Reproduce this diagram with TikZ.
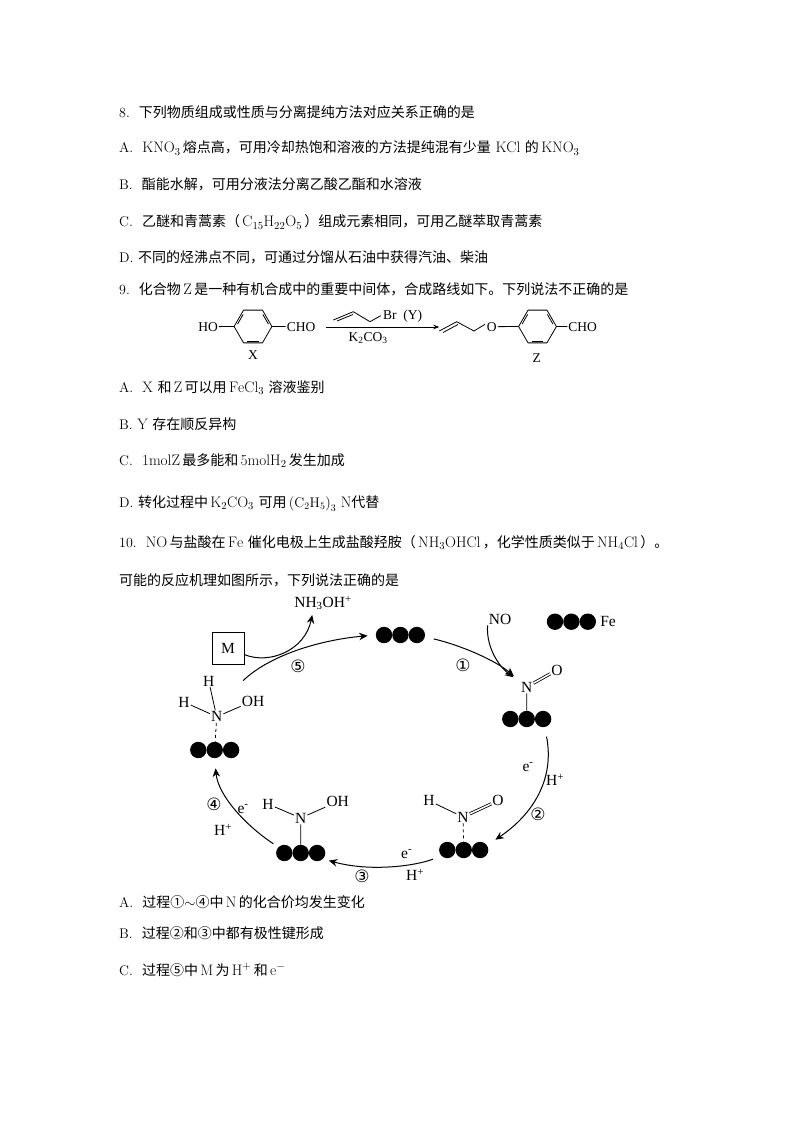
\documentclass[tikz,border=0pt]{standalone}
\usepackage{fontspec}
\usepackage{tikz}
\usetikzlibrary{arrows.meta}
\newfontfamily\cjk{Noto Sans CJK SC}
\newfontfamily\chemfont{Liberation Serif}
\newfontfamily\circfont{DejaVu Sans}
\newcommand{\zh}[1]{{\cjk #1}}
\newcommand{\chem}[1]{{\fontsize{15.2}{15.2}\selectfont$\mathrm{#1}$}}
\tikzset{>={Stealth[length=8.5pt,width=7.5pt]}}
\tikzset{
  textline/.style={anchor=base west,inner sep=0pt,font=\fontsize{14}{14}\selectfont},
  atom/.style={inner sep=1pt,font=\chemfont\fontsize{15.5}{15.5}\selectfont},
  small atom/.style={inner sep=1pt,font=\chemfont\fontsize{13.5}{13.5}\selectfont},
  stepnum/.style={inner sep=0pt,font=\circfont\fontsize{17}{17}\selectfont},
  featom/.style={circle,fill=black,minimum size=16.4pt,inner sep=0pt},
  bond/.style={line width=0.8pt},
  flow/.style={->,line width=1pt},
  chain/.style={line width=0.8pt,line join=bevel}
}
% three iron atoms side by side
\newcommand{\featoms}[3]{
  \foreach \t in {1, 2, 3} {
    \node[featom](#1\t) at (#2+16.4*\t-32.8, #3) {};
  }
}
% benzene ring with corners #10 ... #15
\newcommand{\benzene}[3]{
  \foreach \t in {0, 1, 2, 3, 4, 5} {
    \coordinate (#1\t) at ({#2+18.9*cos(60*\t)}, {#3+18.9*sin(60*\t)});
  }
  \draw[chain] (#10) -- (#11) -- (#12) -- (#13) -- (#14) -- (#15) -- cycle;
  \foreach \a in {60, 180, 300} {
    \draw[chain] ({#2+15.6*cos(\a+9)}, {#3+15.6*sin(\a+9)}) -- ({#2+15.6*cos(\a+51)}, {#3+15.6*sin(\a+51)});
  }
}
\begin{document}
\begin{tikzpicture}[x=1pt,y=-1pt]
  \useasboundingbox (0,0) rectangle (794,1123);

  % question 8
  \node[textline](qeight) at (119, 118) {8.\ \ \zh{下列物质组成或性质与分离提纯方法对应关系正确的是}};
  \node[textline](qeighta) at (119, 153) {A.\ \ \chem{KNO_3}\,\zh{熔点高，可用冷却热饱和溶液的方法提纯混有少量}\ \chem{KCl}\ \zh{的}\,\chem{KNO_3}};
  \node[textline](qeightb) at (119, 190) {B.\ \ \zh{酯能水解，可用分液法分离乙酸乙酯和水溶液}};
  \node[textline](qeightc) at (119, 227) {C.\ \ \zh{乙醚和青蒿素（}\,\chem{C_{15}H_{22}O_5}\,\zh{）组成元素相同，可用乙醚萃取青蒿素}};
  \node[textline](qeightd) at (119, 262) {D.\ \zh{不同的烃沸点不同，可通过分馏从石油中获得汽油、柴油}};

  % question 9
  \node[textline](qnine) at (119, 294) {9.\ \ \zh{化合物}\chem{\,Z\,}\zh{是一种有机合成中的重要中间体，合成路线如下。下列说法不正确的是}};

  \node[small atom](ho) at (208, 326.7) {HO};
  \benzene{xring}{253}{326.5}
  \node[small atom](chox) at (301, 326.7) {CHO};
  \node[small atom](labelx) at (253, 355) {X};
  \draw[bond] (ho) -- (xring3);
  \draw[bond] (xring0) -- (chox);

  \coordinate (ya) at (333.3, 320);
  \coordinate (yb) at (353.3, 311.7);
  \coordinate (yc) at (370, 321.7);
  \coordinate (yd) at (380.7, 315.7);
  \draw[chain] (ya) -- (yb) -- (yc) -- (yd);
  \draw[bond] (337, 321) -- (353, 314.5);
  \node[small atom,anchor=west](brlabel) at (382, 316.7) {Br\ \ (Y)};
  \node[small atom](kcarb) at (368, 338) {K\textsubscript{2}CO\textsubscript{3}};

  \coordinate (za) at (439.3, 331);
  \coordinate (zb) at (456.7, 321.7);
  \coordinate (zc) at (474, 331);
  \coordinate (zd) at (485, 324.3);
  \draw[chain] (za) -- (zb) -- (zc) -- (zd);
  \draw[bond] (443, 332.5) -- (458, 324.5);
  \node[small atom](oz) at (491.7, 326.7) {O};
  \coordinate (arrowstart) at (326, 327);
  \coordinate (arrowend) at (439.3, 327);
  \draw[->,line width=0.8pt,>={Stealth[length=6pt,width=4.5pt]}] (arrowstart) -- (arrowend);
  \benzene{zring}{537.5}{326.5}
  \node[small atom](choz) at (582.7, 326.7) {CHO};
  \node[small atom](labelz) at (536.7, 358) {Z};
  \draw[bond] (oz) -- (zring3);
  \draw[bond] (zring0) -- (choz);

  \node[textline](qninea) at (119, 392) {A.\ \ \chem{X}\ \zh{和}\,\chem{Z}\,\zh{可以用}\,\chem{FeCl_3}\ \zh{溶液鉴别}};
  \node[textline](qnineb) at (119, 429) {B.\ \chem{Y}\ \zh{存在顺反异构}};
  \node[textline](qninec) at (119, 465) {C.\ \ \chem{1molZ}\,\zh{最多能和}\,\chem{5molH_2}\,\zh{发生加成}};
  \node[textline](qnined) at (119, 507) {D.\ \zh{转化过程中}\,\chem{K_2CO_3}\ \zh{可用}\,$\left(\mathrm{C_2H_5}\right)_3$\ \chem{N}\zh{代替}};

  % question 10
  \node[textline](qten) at (119, 547) {10.\ \ \chem{NO}\,\zh{与盐酸在}\,\chem{Fe}\ \zh{催化电极上生成盐酸羟胺（}\,\chem{NH_3OHCl}\,\zh{，化学性质类似于}\,\chem{NH_4Cl}\,\zh{）。}};
  \node[textline](qtenb) at (119, 585) {\zh{可能的反应机理如图所示，下列说法正确的是}};

  % iron atoms
  \featoms{fetop}{400.4}{635}
  \featoms{feleg}{571.4}{621.7}
  \featoms{fea}{526.7}{719}
  \featoms{feb}{463.7}{850}
  \featoms{fec}{300.7}{853}
  \featoms{fed}{214.7}{750}
  \node[atom](fename) at (608, 621) {Fe};

  % nitrosyl on the right
  \node[atom](no) at (500, 619) {NO};
  \node[atom](na) at (526.7, 687) {N};
  \node[atom](oa) at (557, 670) {O};
  \draw[bond,double,double distance=1.5pt] (na) -- (oa);
  \draw[bond] (na) -- (fea2);

  % HNO at the bottom right
  \node[atom](nb) at (463, 817) {N};
  \node[atom](hb) at (429, 800.7) {H};
  \node[atom](ob) at (498, 800.7) {O};
  \draw[bond] (hb) -- (nb);
  \draw[bond,double,double distance=1.5pt] (nb) -- (ob);
  \draw[bond,dashed] (nb) -- (feb2);

  % HNOH at the bottom left
  \node[atom](nc) at (300.7, 818) {N};
  \node[atom](hc) at (268, 804) {H};
  \node[atom](ohc) at (337.7, 801.7) {OH};
  \draw[bond] (hc) -- (nc);
  \draw[bond] (nc) -- (ohc);
  \draw[bond] (nc) -- (fec2);

  % H2NOH on the left
  \node[atom](nd) at (216.7, 716.7) {N};
  \node[atom](hd) at (208.7, 681) {H};
  \node[atom](hdd) at (184, 702) {H};
  \node[atom](ohd) at (253, 701) {OH};
  \draw[bond] (hd) -- (nd);
  \draw[bond] (hdd) -- (nd);
  \draw[bond] (nd) -- (ohd);
  \draw[bond,dashed] (nd) -- (fed2);

  % M and the product
  \node[draw,atom,line width=0.8pt,minimum size=32pt](mbox) at (228, 648) {M};
  \node[atom](prod) at (323, 603) {NH\textsubscript{3}OH\textsuperscript{+}};
  \coordinate (fivestart) at (243, 680.7);
  \coordinate (mstart) at (244, 654.5);

  % cycle arrows
  \draw[flow,shorten <=9pt,shorten >=8pt] (fetop3) .. controls (460, 645) and (495, 660) .. (na);
  \draw[flow,shorten >=8pt] (no.south west) .. controls (486, 645) and (497, 665) .. (na);
  \draw[flow,shorten <=9.5pt,shorten >=10pt] (fea3) .. controls (555, 780) and (532, 815) .. (feb3);
  \draw[flow,shorten <=9pt,shorten >=6pt] (feb1.south west) .. controls (415, 866) and (370, 872) .. (fec3.south east);
  \draw[flow,shorten <=6pt,shorten >=10pt] (fec1.north west) .. controls (245, 825) and (218, 795) .. (fed2.south);
  \draw[flow,shorten >=8pt] (fivestart) .. controls (270, 655) and (320, 640) .. (fetop1.west);
  \draw[flow,shorten >=4pt] (mstart) .. controls (270, 665) and (305, 650) .. ([xshift=-10pt]prod.south);

  % step labels
  \node[stepnum](stepone) at (463, 665.7) {①};
  \node[stepnum](steptwo) at (538, 814) {②};
  \node[stepnum](stepthree) at (362, 876.7) {③};
  \node[stepnum](stepfour) at (214, 804) {④};
  \node[stepnum](stepfive) at (298, 666) {⑤};
  \node[atom](etwo) at (528, 767) {e\textsuperscript{-}};
  \node[atom](htwo) at (555, 780) {H\textsuperscript{+}};
  \node[atom](ethree) at (406.7, 854) {e\textsuperscript{-}};
  \node[atom](hthree) at (415, 875) {H\textsuperscript{+}};
  \node[atom](efour) at (243, 809) {e\textsuperscript{-}};
  \node[atom](hfour) at (223, 830) {H\textsuperscript{+}};

  % options of question 10
  \node[textline](qtena) at (119, 907) {A.\ \ \zh{过程①$\sim$④中}\,\chem{N}\,\zh{的化合价均发生变化}};
  \node[textline](qtenc) at (119, 938) {B.\ \ \zh{过程②和③中都有极性键形成}};
  \node[textline](qtend) at (119, 975) {C.\ \ \zh{过程⑤中}\,\chem{M}\,\zh{为}\,\chem{H^+}\,\zh{和}\,\chem{e^-}};
\end{tikzpicture}
\end{document}
